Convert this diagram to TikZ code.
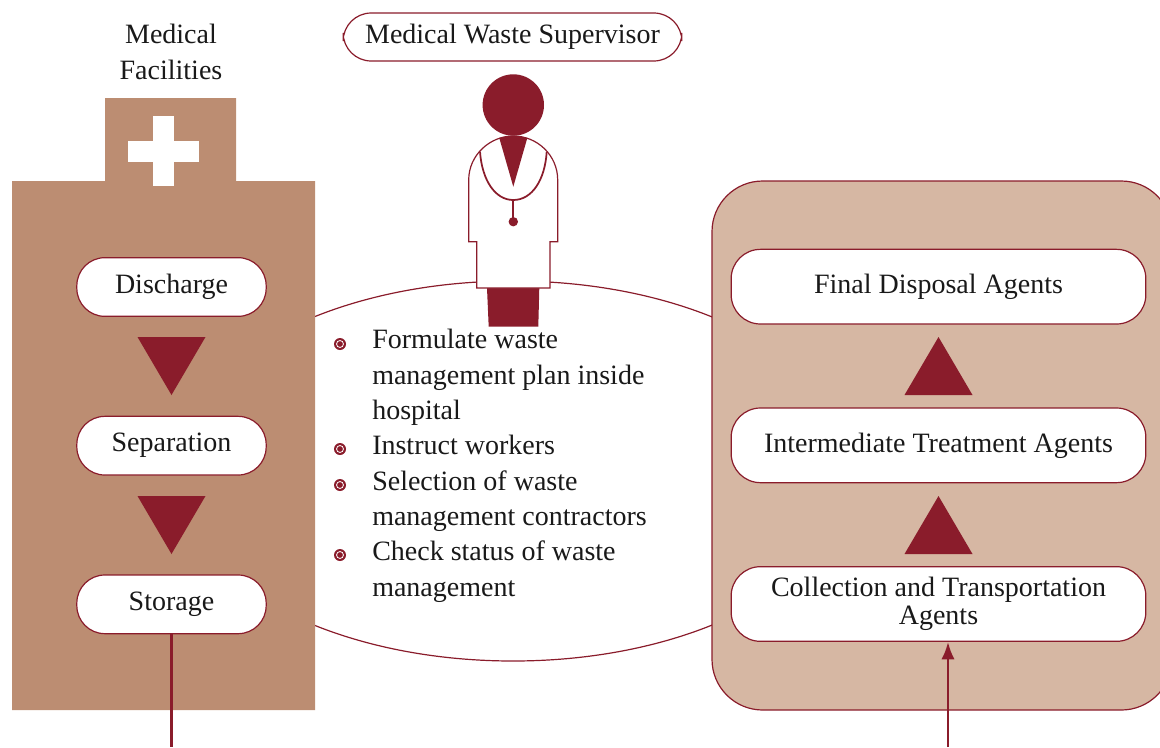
\documentclass[tikz,border=0pt]{standalone}
\usepackage{fontspec}
\setmainfont{Liberation Serif}
\usetikzlibrary{arrows.meta}
\definecolor{wine}{HTML}{8A1C2B}
\definecolor{building}{HTML}{BC8D72}
\definecolor{panel}{HTML}{D6B7A3}
\tikzset{
	label_style/.style = {font=\fontsize{21}{26.5}\selectfont, align=center, text=black!90},
	pill_style/.style = {label_style, draw=wine, fill=white, line width=0.9pt, rounded corners=21pt, inner sep=0pt, minimum width=142pt, minimum height=44pt},
	agent_style/.style = {pill_style, rounded corners=22pt, minimum width=311pt, minimum height=56pt, font=\fontsize{21}{21}\selectfont},
	bullet_style/.style = {circle, fill=wine, inner sep=0pt, minimum size=9pt, path picture={\draw[white, line width=0.6pt] (path picture bounding box.center) circle (2.6pt);}},
	flow_style/.style = {draw=wine, line width=2pt}
}
\newcommand{\flowdown}[2]{\fill[wine] (#1-34,#2) -- (#1+34,#2) -- (#1,#2+58) -- cycle;}
\newcommand{\flowup}[2]{\fill[wine] (#1-34,#2+58) -- (#1+34,#2+58) -- (#1,#2) -- cycle;}

\begin{document}
\begin{tikzpicture}[
    x=0.75pt,
    y=-0.75pt,
    node distance=119pt
    ]
	\useasboundingbox (0,0) rectangle (1160,747);

	% supervisor area
	\draw[draw=wine, line width=0.9pt] (513,471) ellipse (340 and 190);

	% medical facilities
	\fill[building] (105,98) -- (236,98) -- (236,181) -- (315,181) -- (315,710) -- (12,710) -- (12,181) -- (105,181) -- cycle;
	\fill[white] (153,116) rectangle (174,186);
	\fill[white] (128,141) rectangle (199,162);
	\node[label_style] (facilities) at (171,52) {Medical\\Facilities};

	\node[pill_style] (discharge) at (171.5,287) {Discharge};
	\node[pill_style, below of=discharge] (separation) {Separation};
	\node[pill_style, below of=separation] (storage) {Storage};
	\flowdown{171.5}{337}
	\flowdown{171.5}{496}

	% agents
	\draw[draw=wine, fill=panel, line width=0.9pt, rounded corners=38pt] (712,181) rectangle (1172,710);
	\node[agent_style] (collection) at (938.5,604) {Collection and Transportation\\Agents};
	\node[agent_style, above of=collection] (treatment) {Intermediate Treatment Agents};
	\node[agent_style, above of=treatment] (disposal) {Final Disposal Agents};
	\flowup{938.5}{337}
	\flowup{938.5}{496}

	% supervisor
	\node[pill_style, minimum width=254pt, minimum height=36pt] (supervisor) at (512.5,37) {Medical Waste Supervisor};
	\fill[wine] (513.3,105) circle (30.7);
	\fill[wine] (487,288) -- (539.3,288) -- (538.3,326.7) -- (488.7,326.7) -- cycle;
	\draw[draw=wine, fill=white, line width=0.9pt] (468.7,180) .. controls (468.7,155) and (490,136) .. (513.3,136) .. controls (537,136) and (557.7,155) .. (557.7,180) -- (557.7,241.7) -- (550,241.7) -- (550,288) -- (476.7,288) -- (476.7,241.7) -- (468.7,241.7) -- cycle;
	\fill[wine] (499.3,138) .. controls (508,135.5) and (518,135.5) .. (527.3,138) -- (513.3,186.7) -- cycle;
	\draw[draw=wine, line width=1.3pt] (480,151.7) .. controls (482,180) and (495,200) .. (513.3,200) .. controls (532,200) and (545,180) .. (546.7,151.7);
	\draw[draw=wine, line width=1.3pt] (513.3,200) -- (513.3,221.7);
	\fill[wine] (513.3,221.7) circle (4.7);

	% duties
	\node[label_style, anchor=north west, align=left, inner sep=0pt] (duties) at (372,329) {Formulate waste\\management plan inside\\hospital\\Instruct workers\\Selection of waste\\management contractors\\Check status of waste\\management};
	\foreach \name/\ypos in {first/344, second/449, third/485, fourth/555}
		\node[bullet_style] (\name) at (340,\ypos) {};

	% connectors
	\coordinate (leave) at (171.5,747);
	\coordinate (enter) at (948,747);
	\draw[flow_style] (storage) -- (leave);
	\draw[flow_style, -{Latex[length=13pt,width=10pt]}] (enter) -- (enter |- collection.south);
\end{tikzpicture}
\end{document}
